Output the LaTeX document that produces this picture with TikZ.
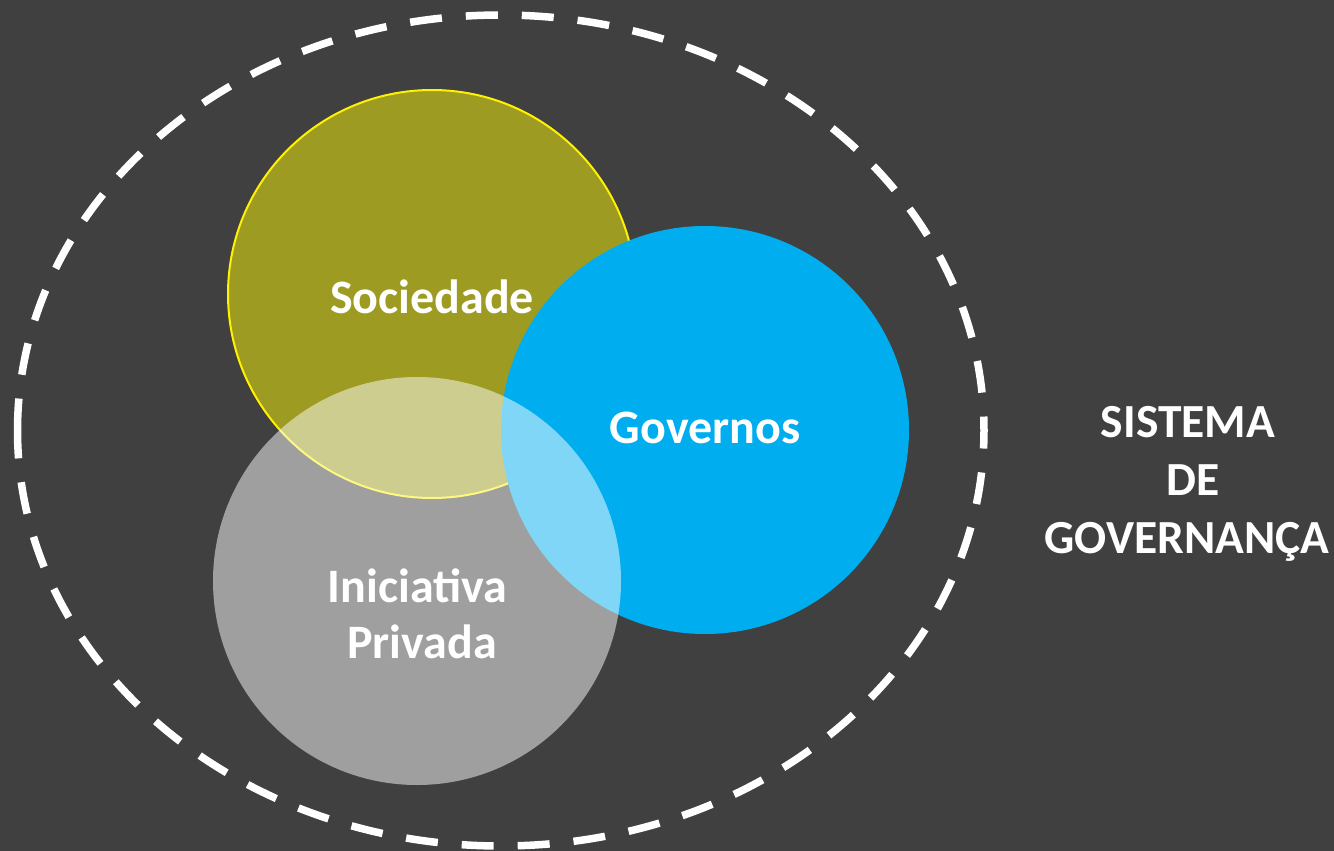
\documentclass[tikz,border=0pt]{standalone}
\usepackage{fontspec}
\setmainfont{Carlito}
\definecolor{bg}{HTML}{404040}
\definecolor{olivefill}{HTML}{9D9B21}
\definecolor{govblue}{HTML}{00AEEF}
\begin{document}
\begin{tikzpicture}[x=1pt,y=-1pt,
  bubble/.style={circle, inner sep=0pt, minimum size=408pt},
  lbl/.style={text=white, font=\fontsize{48}{56}\selectfont\bfseries, anchor=base, inner sep=0pt},
  side/.style={text=white, font=\fontsize{47.5}{56}\selectfont\bfseries, anchor=base, inner sep=0pt},
]
\fill[bg] (0,0) rectangle (1334,851);
\useasboundingbox (0,0) rectangle (1334,851);
\coordinate (start) at (17.5,430.5);
\draw[white, line width=7.5pt, dash pattern=on 32pt off 24pt] (start) arc[start angle=180, end angle=540, x radius=483.25, y radius=415.5];
\node[bubble, fill=olivefill, draw=yellow, line width=2pt] (soc) at (432,294) {};
\node[bubble, fill=govblue] (gov) at (705,430) {};
\node[bubble, fill=white, fill opacity=0.5] (ini) at (417,581) {};
\node[lbl] (tsoc) at (432,313) {Sociedade};
\node[lbl] (tgov) at (705,443) {Governos};
\node[lbl] (tini1) at (417.5,602) {Iniciativa};
\node[lbl] (tini2) at (422,658) {Privada};
\node[side] (s1) at (1188,437) {SISTEMA};
\node[side] (s2) at (1193,495) {DE};
\node[side] (s3) at (1187,553) {GOVERNANÇA};
\end{tikzpicture}
\end{document}
